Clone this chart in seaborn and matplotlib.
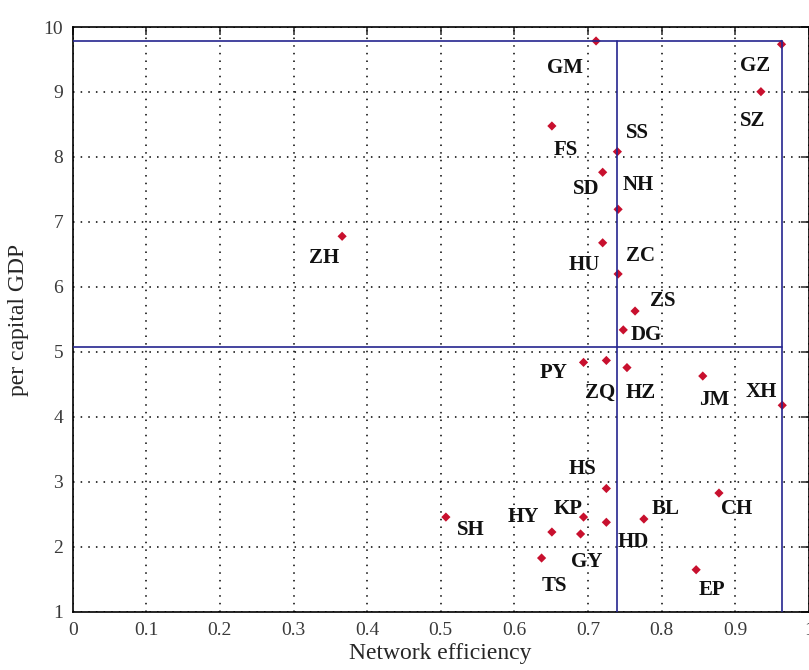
import matplotlib
matplotlib.use('Agg')
import matplotlib.pyplot as plt
import pandas as pd
import seaborn as sns

# city codes, network efficiency and per capital GDP
cities = ['GM', 'GZ', 'SZ', 'FS', 'SS', 'SD', 'NH', 'HU', 'ZC', 'ZS', 'DG', 'ZH',
          'PY', 'ZQ', 'HZ', 'JM', 'XH', 'HS', 'CH', 'BL', 'KP', 'SH', 'HD', 'HY',
          'GY', 'TS', 'EP']
efficiency = [0.711, 0.963, 0.935, 0.651, 0.740, 0.720, 0.741, 0.720, 0.741, 0.764,
              0.748, 0.366, 0.694, 0.725, 0.753, 0.856, 0.964, 0.725, 0.878, 0.776,
              0.694, 0.507, 0.725, 0.651, 0.690, 0.637, 0.847]
gdp = [9.785, 9.734, 9.005, 8.477, 8.082, 7.765, 7.195, 6.68, 6.20, 5.63,
       5.34, 6.78, 4.84, 4.87, 4.76, 4.63, 4.18, 2.90, 2.83, 2.43,
       2.46, 2.46, 2.38, 2.23, 2.20, 1.83, 1.65]

# reference lines (mean / max of each measure)
eff_mean = 0.739
eff_max = 0.963
gdp_mean = 5.075
gdp_max = 9.785

x_ticks = [0, 0.1, 0.2, 0.3, 0.4, 0.5, 0.6, 0.7, 0.8, 0.9, 1]
y_ticks = [1, 2, 3, 4, 5, 6, 7, 8, 9, 10]

# label offsets in pixels (dx, dy) from each point
label_offsets = {
    'GM': (-31, -27), 'GZ': (-26, -22), 'SZ': (-8, -29), 'FS': (14, -24),
    'SS': (20, 19), 'SD': (-16, -17), 'NH': (20, 24), 'HU': (-18, -22),
    'ZC': (22, 18), 'ZS': (28, 10), 'DG': (23, -5), 'ZH': (-18, -22),
    'PY': (-30, -11), 'ZQ': (-6, -32), 'HZ': (14, -25), 'JM': (11, -24),
    'XH': (-21, 13), 'HS': (-24, 19), 'CH': (18, -16), 'BL': (22, 10),
    'KP': (-15, 8), 'SH': (25, -13), 'HD': (27, -20), 'HY': (-29, 15),
    'GY': (6, -28), 'TS': (13, -28), 'EP': (16, -20),
}

df = pd.DataFrame({'city': cities, 'eff': efficiency, 'gdp': gdp})

sns.set_style('white')
plt.rcParams['font.family'] = ['Liberation Serif', 'DejaVu Serif']

fig = plt.figure(figsize=(8.09, 6.70), dpi=100)
ax = fig.add_axes([0.0899, 0.0866, 0.9098, 0.8731])

ax.set_xlim(0, 1)
ax.set_ylim(1, 10)
ax.set_xticks(x_ticks)
ax.set_yticks(y_ticks)
ax.set_xticklabels([f'{t:g}' for t in x_ticks])
ax.grid(True, color='black', linestyle=(0, (1, 4)), linewidth=1.1)
ax.set_axisbelow(True)

sns.scatterplot(data=df, x='eff', y='gdp', marker='D', s=22, color='#c8102e',
                edgecolor='none', ax=ax, zorder=3)

# box lines drawn over the points, as in the original
blue = '#25258f'
ax.plot([0, eff_max], [gdp_max, gdp_max], color=blue, lw=1.2, zorder=4)
ax.plot([0, eff_max], [gdp_mean, gdp_mean], color=blue, lw=1.2, zorder=4)
ax.plot([eff_mean, eff_mean], [1, gdp_max], color=blue, lw=1.2, zorder=4)
ax.plot([eff_max, eff_max], [1, gdp_max], color=blue, lw=1.2, zorder=4)

for name, xv, yv in zip(cities, efficiency, gdp):
    dx, dy = label_offsets[name]
    ax.annotate(name, (xv, yv), xytext=(dx, dy), textcoords='offset pixels',
                ha='center', va='center', fontsize=15, fontweight='bold',
                color='#111111')

for s in ax.spines.values():
    s.set_color('black')
    s.set_linewidth(1.2)

ax.tick_params(direction='in', length=6, width=1.1, top=True, right=True,
               labelsize=14, labelcolor='#3a3a3a', pad=7)
ax.set_xlabel('Network efficiency', fontsize=17, labelpad=3)
ax.set_ylabel('per capital GDP', fontsize=17, labelpad=10)

fig.savefig('out.png', dpi=100)
